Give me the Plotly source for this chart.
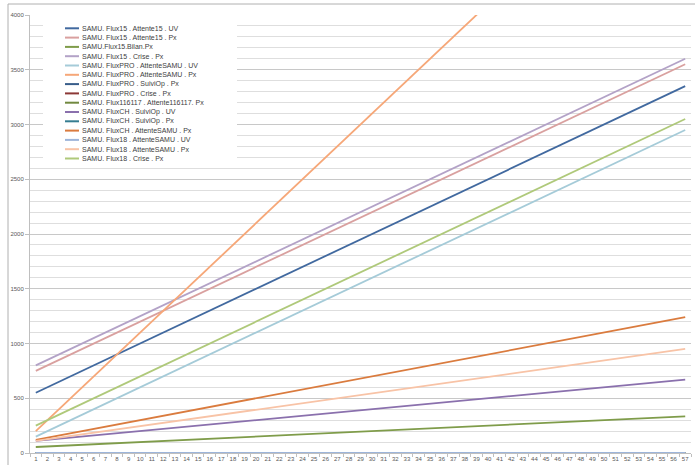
import plotly.graph_objects as go

# Category axis: day index
categories = ["1", "2", "3", "4", "5", "6", "7", "8", "9", "10", "11", "12", "13", "14", "15",
              "16", "17", "18", "19", "20", "21", "22", "23", "24", "25", "26", "27", "28", "29",
              "30", "31", "32", "33", "34", "35", "36", "37", "38", "39", "40", "41", "42", "43",
              "44", "45", "46", "47", "48", "49", "50", "51", "52", "53", "54", "55", "56", "57"]

flux15_attente15_uv = [550, 600, 650, 700, 750, 800, 850, 900, 950, 1000, 1050, 1100, 1150, 1200,
                       1250, 1300, 1350, 1400, 1450, 1500, 1550, 1600, 1650, 1700, 1750, 1800, 1850,
                       1900, 1950, 2000, 2050, 2100, 2150, 2200, 2250, 2300, 2350, 2400, 2450, 2500,
                       2550, 2600, 2650, 2700, 2750, 2800, 2850, 2900, 2950, 3000, 3050, 3100, 3150,
                       3200, 3250, 3300, 3350]
flux15_attente15_px = [750, 800, 850, 900, 950, 1000, 1050, 1100, 1150, 1200, 1250, 1300, 1350, 1400,
                       1450, 1500, 1550, 1600, 1650, 1700, 1750, 1800, 1850, 1900, 1950, 2000, 2050,
                       2100, 2150, 2200, 2250, 2300, 2350, 2400, 2450, 2500, 2550, 2600, 2650, 2700,
                       2750, 2800, 2850, 2900, 2950, 3000, 3050, 3100, 3150, 3200, 3250, 3300, 3350,
                       3400, 3450, 3500, 3550]
flux15_bilan_px = [55, 60, 65, 70, 75, 80, 85, 90, 95, 100, 105, 110, 115, 120, 125, 130, 135, 140,
                   145, 150, 155, 160, 165, 170, 175, 180, 185, 190, 195, 200, 205, 210, 215, 220,
                   225, 230, 235, 240, 245, 250, 255, 260, 265, 270, 275, 280, 285, 290, 295, 300,
                   305, 310, 315, 320, 325, 330, 335]
flux15_crise_px = [800, 850, 900, 950, 1000, 1050, 1100, 1150, 1200, 1250, 1300, 1350, 1400, 1450,
                   1500, 1550, 1600, 1650, 1700, 1750, 1800, 1850, 1900, 1950, 2000, 2050, 2100,
                   2150, 2200, 2250, 2300, 2350, 2400, 2450, 2500, 2550, 2600, 2650, 2700, 2750,
                   2800, 2850, 2900, 2950, 3000, 3050, 3100, 3150, 3200, 3250, 3300, 3350, 3400,
                   3450, 3500, 3550, 3600]
fluxpro_attentesamu_uv = [150, 200, 250, 300, 350, 400, 450, 500, 550, 600, 650, 700, 750, 800, 850,
                          900, 950, 1000, 1050, 1100, 1150, 1200, 1250, 1300, 1350, 1400, 1450, 1500,
                          1550, 1600, 1650, 1700, 1750, 1800, 1850, 1900, 1950, 2000, 2050, 2100,
                          2150, 2200, 2250, 2300, 2350, 2400, 2450, 2500, 2550, 2600, 2650, 2700,
                          2750, 2800, 2850, 2900, 2950]
fluxpro_attentesamu_px = [200, 300, 400, 500, 600, 700, 800, 900, 1000, 1100, 1200, 1300, 1400, 1500,
                          1600, 1700, 1800, 1900, 2000, 2100, 2200, 2300, 2400, 2500, 2600, 2700,
                          2800, 2900, 3000, 3100, 3200, 3300, 3400, 3500, 3600, 3700, 3800, 3900,
                          4000, 4100, 4200, 4300, 4400, 4500, 4600, 4700, 4800, 4900, 5000, 5100,
                          5200, 5300, 5400, 5500, 5600, 5700, 5800]
fluxpro_suiviop_px = [0, 0, 0, 0, 0, 0, 0, 0, 0, 0, 0, 0, 0, 0, 0, 0, 0, 0, 0, 0, 0, 0, 0, 0, 0, 0,
                      0, 0, 0, 0, 0, 0, 0, 0, 0, 0, 0, 0, 0, 0, 0, 0, 0, 0, 0, 0, 0, 0, 0, 0, 0, 0,
                      0, 0, 0, 0, 0]
fluxpro_crise_px = [0, 0, 0, 0, 0, 0, 0, 0, 0, 0, 0, 0, 0, 0, 0, 0, 0, 0, 0, 0, 0, 0, 0, 0, 0, 0,
                    0, 0, 0, 0, 0, 0, 0, 0, 0, 0, 0, 0, 0, 0, 0, 0, 0, 0, 0, 0, 0, 0, 0, 0, 0, 0,
                    0, 0, 0, 0, 0]
flux116117_attente_px = [0, 0, 0, 0, 0, 0, 0, 0, 0, 0, 0, 0, 0, 0, 0, 0, 0, 0, 0, 0, 0, 0, 0, 0, 0,
                         0, 0, 0, 0, 0, 0, 0, 0, 0, 0, 0, 0, 0, 0, 0, 0, 0, 0, 0, 0, 0, 0, 0, 0, 0,
                         0, 0, 0, 0, 0, 0, 0]
fluxch_suiviop_uv = [110, 120, 130, 140, 150, 160, 170, 180, 190, 200, 210, 220, 230, 240, 250, 260,
                     270, 280, 290, 300, 310, 320, 330, 340, 350, 360, 370, 380, 390, 400, 410, 420,
                     430, 440, 450, 460, 470, 480, 490, 500, 510, 520, 530, 540, 550, 560, 570, 580,
                     590, 600, 610, 620, 630, 640, 650, 660, 670]
fluxch_suiviop_px = [0, 0, 0, 0, 0, 0, 0, 0, 0, 0, 0, 0, 0, 0, 0, 0, 0, 0, 0, 0, 0, 0, 0, 0, 0, 0,
                     0, 0, 0, 0, 0, 0, 0, 0, 0, 0, 0, 0, 0, 0, 0, 0, 0, 0, 0, 0, 0, 0, 0, 0, 0, 0,
                     0, 0, 0, 0, 0]
fluxch_attentesamu_px = [120, 140, 160, 180, 200, 220, 240, 260, 280, 300, 320, 340, 360, 380, 400,
                         420, 440, 460, 480, 500, 520, 540, 560, 580, 600, 620, 640, 660, 680, 700,
                         720, 740, 760, 780, 800, 820, 840, 860, 880, 900, 920, 940, 960, 980, 1000,
                         1020, 1040, 1060, 1080, 1100, 1120, 1140, 1160, 1180, 1200, 1220, 1240]
flux18_attentesamu_uv = [0, 0, 0, 0, 0, 0, 0, 0, 0, 0, 0, 0, 0, 0, 0, 0, 0, 0, 0, 0, 0, 0, 0, 0, 0,
                         0, 0, 0, 0, 0, 0, 0, 0, 0, 0, 0, 0, 0, 0, 0, 0, 0, 0, 0, 0, 0, 0, 0, 0, 0,
                         0, 0, 0, 0, 0, 0, 0]
flux18_attentesamu_px = [110, 125, 140, 155, 170, 185, 200, 215, 230, 245, 260, 275, 290, 305, 320,
                         335, 350, 365, 380, 395, 410, 425, 440, 455, 470, 485, 500, 515, 530, 545,
                         560, 575, 590, 605, 620, 635, 650, 665, 680, 695, 710, 725, 740, 755, 770,
                         785, 800, 815, 830, 845, 860, 875, 890, 905, 920, 935, 950]
flux18_crise_px = [250, 300, 350, 400, 450, 500, 550, 600, 650, 700, 750, 800, 850, 900, 950, 1000,
                   1050, 1100, 1150, 1200, 1250, 1300, 1350, 1400, 1450, 1500, 1550, 1600, 1650,
                   1700, 1750, 1800, 1850, 1900, 1950, 2000, 2050, 2100, 2150, 2200, 2250, 2300,
                   2350, 2400, 2450, 2500, 2550, 2600, 2650, 2700, 2750, 2800, 2850, 2900, 2950,
                   3000, 3050]

series_names = [
    "SAMU. Flux15 . Attente15 . UV",
    "SAMU. Flux15 . Attente15 . Px",
    "SAMU.Flux15.Bilan.Px",
    "SAMU. Flux15 . Crise . Px",
    "SAMU. FluxPRO . AttenteSAMU . UV",
    "SAMU. FluxPRO . AttenteSAMU . Px",
    "SAMU. FluxPRO . SuiviOp . Px",
    "SAMU. FluxPRO . Crise . Px",
    "SAMU. Flux116117 . Attente116117. Px",
    "SAMU. FluxCH . SuiviOp . UV",
    "SAMU. FluxCH . SuiviOp . Px",
    "SAMU. FluxCH . AttenteSAMU . Px",
    "SAMU. Flux18 . AttenteSAMU . UV",
    "SAMU. Flux18 . AttenteSAMU . Px",
    "SAMU. Flux18 . Crise . Px",
]
series_values = [
    flux15_attente15_uv, flux15_attente15_px, flux15_bilan_px, flux15_crise_px,
    fluxpro_attentesamu_uv, fluxpro_attentesamu_px, fluxpro_suiviop_px, fluxpro_crise_px,
    flux116117_attente_px, fluxch_suiviop_uv, fluxch_suiviop_px, fluxch_attentesamu_px,
    flux18_attentesamu_uv, flux18_attentesamu_px, flux18_crise_px,
]
series_colors = [
    "#41699F", "#D9A09F", "#7F9C4A", "#B3A2C7", "#A5CBD8",
    "#F6A778", "#385D8A", "#8C3836", "#71893F", "#8A70AD",
    "#357D91", "#DA7B3E", "#9DB5DA", "#F8C3A6", "#AFC97A",
]

# Plot-area geometry in pixels (figure is 695 x 465)
W, H = 695, 465
ML, MR, MT, MB = 30, 4, 15, 12
PW, PH = W - ML - MR, H - MT - MB


def px_x(px):
    return (px - ML) / PW


def px_y(py):
    return (H - MB - py) / PH


fig = go.Figure()
for name, vals, col in zip(series_names, series_values, series_colors):
    fig.add_trace(go.Scatter(
        x=categories, y=vals, mode="lines", name=name,
        line=dict(color=col, width=1.8), showlegend=False,
    ))

shapes = [
    # chart-area frame
    dict(type="rect", xref="paper", yref="paper",
         x0=px_x(8), x1=px_x(720), y0=px_y(490), y1=px_y(4),
         line=dict(color="#B0B0B0", width=1), fillcolor="rgba(0,0,0,0)", layer="above"),
    # legend background
    dict(type="rect", xref="paper", yref="paper",
         x0=px_x(43), x1=px_x(237), y0=px_y(167), y1=px_y(20),
         line=dict(width=0), fillcolor="white", layer="above"),
]
annotations = []
for i, (name, col) in enumerate(zip(series_names, series_colors)):
    yy = 28.3 + 9.3 * i
    shapes.append(dict(type="line", xref="paper", yref="paper",
                       x0=px_x(65), x1=px_x(79), y0=px_y(yy), y1=px_y(yy),
                       line=dict(color=col, width=2), layer="above"))
    annotations.append(dict(xref="paper", yref="paper", x=px_x(79.5), y=px_y(yy),
                            text=name, showarrow=False, xanchor="left", yanchor="middle",
                            font=dict(family="Liberation Sans", size=7, color="#404040")))

fig.update_layout(
    width=W, height=H,
    margin=dict(l=ML, r=MR, t=MT, b=MB),
    paper_bgcolor="white", plot_bgcolor="white",
    showlegend=False,
    shapes=shapes, annotations=annotations,
    xaxis=dict(
        type="category", showgrid=False, showline=True, linecolor="#BFBFBF",
        ticks="outside", tickson="boundaries", ticklen=3, tickcolor="#BFBFBF",
        tickangle=0,
        tickfont=dict(family="Liberation Sans", size=6, color="#595959"),
        range=[-0.5, 56.5], fixedrange=True,
    ),
    yaxis=dict(
        range=[0, 4000], dtick=500, tick0=0, showline=True, linecolor="#BFBFBF",
        ticks="outside", ticklen=4, tickcolor="#BFBFBF",
        showgrid=True, gridcolor="#C8C8C8", gridwidth=1, zeroline=False,
        minor=dict(dtick=100, showgrid=True, gridcolor="#DEDEDE", gridwidth=1),
        tickfont=dict(family="Liberation Sans", size=6, color="#595959"),
        fixedrange=True,
    ),
)

fig.write_html("out.html")
